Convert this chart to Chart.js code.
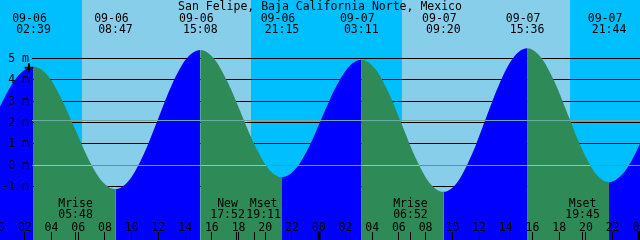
<!DOCTYPE html>
<html><head><meta charset="utf-8">
<script src="https://cdn.jsdelivr.net/npm/chart.js@4.4.1/dist/chart.umd.min.js"></script>
<style>html,body{margin:0;padding:0;background:#00BFFF;overflow:hidden}canvas{display:block}</style>
</head><body><canvas id="c" width="640" height="240"></canvas>
<script>
const title = 'San Felipe, Baja California Norte, Mexico';
// time in hours since 09-06 00:00, heights in metres
const tideHours = [0.142, 0.8, 1.4, 2.0, 2.65, 3.672, 4.694, 5.717, 6.739, 7.761, 8.783,
  9.841, 10.9, 11.958, 13.017, 14.075, 15.133, 16.153, 17.172, 18.192, 19.211, 20.231, 21.25,
  22.239, 23.228, 24.217, 25.206, 26.194, 27.183, 28.208, 29.233, 30.258, 31.283, 32.308, 33.333,
  34.378, 35.422, 36.467, 37.511, 38.556, 39.6, 40.622, 41.644, 42.667, 43.689, 44.711, 45.733,
  46.8, 47.5, 48.05];
const tideHeights = [2.74, 3.54, 4.10, 4.46, 4.60, 4.22, 3.17, 1.75, 0.32, -0.73, -1.11,
  -0.67, 0.52, 2.14, 3.77, 4.96, 5.39, 4.99, 3.90, 2.42, 0.93, -0.16, -0.56,
  -0.19, 0.81, 2.19, 3.56, 4.56, 4.93, 4.52, 3.39, 1.85, 0.30, -0.83, -1.24,
  -0.79, 0.44, 2.12, 3.79, 5.02, 5.47, 5.05, 3.91, 2.34, 0.78, -0.37, -0.79,
  -0.37, 0.30, 1.02];
const tideEventDates = ['09-06', '09-06', '09-06', '09-06', '09-07', '09-07', '09-07', '09-07'];
const tideEventTimes = ['02:39', '08:47', '15:08', '21:15', '03:11', '09:20', '15:36', '21:44'];
const moonEventNames = ['Mrise', 'New', 'Mset', 'Mrise', 'Mset'];
const moonEventDates = ['09-06', '09-06', '09-06', '09-07', '09-07'];
const moonEventTimes = ['05:48', '17:52', '19:11', '06:52', '19:45'];
const sunEventKinds = ['rise', 'set', 'rise', 'set'];
const sunEventDates = ['09-06', '09-06', '09-07', '09-07'];
const sunEventTimes = ['06:15', '18:56', '06:12', '18:49'];
const depthTicks = [5, 4, 3, 2, 1, 0, -1];
const datumLevels = [2.1, 0];
const datumColors = ['#6fa9a6', 'rgba(225,245,255,0.55)'];
const hourTicks = [0, 2, 4, 6, 8, 10, 12, 14, 16, 18, 20, 22, 24, 26, 28, 30, 32, 34, 36, 38, 40, 42, 44, 46, 48];
const hourTickLabels = ['00', '02', '04', '06', '08', '10', '12', '14', '16', '18', '20', '22',
  '00', '02', '04', '06', '08', '10', '12', '14', '16', '18', '20', '22', '00'];
const markerHours = [2.31];
const markerHeights = [4.56];
const xMin = 0.142, xMax = 48.05, yMin = -3.49, yMax = 7.72;

const NIGHT = '#00BFFF', DAY = '#87CEEB', RISE = '#0000FF', FALL = '#2E8B57';
const FONT = '11.5px "DejaVu Sans Mono", "Liberation Mono", monospace';
const dayIndex = {'09-06': 0, '09-07': 1, '09-08': 2};
function toHours(d, t) {
  const [hh, mm] = t.split(':').map(Number);
  return dayIndex[d] * 24 + hh + mm / 60;
}

const decor = {
  id: 'decor',
  beforeDraw(chart) {
    const {ctx} = chart, xs = chart.scales.x;
    ctx.save();
    ctx.fillStyle = NIGHT;
    ctx.fillRect(0, 0, chart.width, chart.height);
    let start = null;
    sunEventKinds.forEach((k, i) => {
      const px = xs.getPixelForValue(toHours(sunEventDates[i], sunEventTimes[i]));
      if (k === 'rise') start = px;
      else if (start !== null) {
        ctx.fillStyle = DAY;
        ctx.fillRect(Math.round(start), 0, Math.round(px) - Math.round(start), chart.height);
        start = null;
      }
    });
    ctx.restore();
  },
  beforeDatasetsDraw(chart) {
    const {ctx} = chart, ys = chart.scales.y;
    ctx.save();
    ctx.fillStyle = '#000';
    depthTicks.forEach(v => {
      const py = Math.floor(ys.getPixelForValue(v));
      ctx.fillRect(32, py, chart.width - 32, 1);
    });
    ctx.restore();
  },
  afterDatasetsDraw(chart) {
    const {ctx} = chart, xs = chart.scales.x, ys = chart.scales.y;
    ctx.save();
    datumLevels.forEach((v, i) => {
      ctx.fillStyle = datumColors[i];
      ctx.fillRect(32, Math.floor(ys.getPixelForValue(v)), chart.width - 32, 1);
    });
    ctx.font = FONT;
    ctx.fillStyle = '#000';
    ctx.textBaseline = 'alphabetic';
    // depth labels
    ctx.textAlign = 'right';
    depthTicks.forEach(v => {
      const py = ys.getPixelForValue(v);
      ctx.fillText(v + ' m', 29, py + 3.6);
    });
    // title
    ctx.textAlign = 'center';
    ctx.fillText(title, chart.width / 2, 9.5);
    // tide event labels
    tideEventTimes.forEach((t, i) => {
      const px = xs.getPixelForValue(toHours(tideEventDates[i], t));
      ctx.fillText(tideEventDates[i], px - 4, 21.7);
      ctx.fillText(t, px, 33.3);
    });
    // hour labels and ticks
    hourTicks.forEach((h, i) => {
      const px = xs.getPixelForValue(h);
      ctx.fillText(hourTickLabels[i], px, 230.5);
      if (h % 24 === 0) ctx.fillRect(Math.round(px) - 1.5, 231, 3, 9);
      else ctx.fillRect(Math.floor(px), 232, 1, 8);
    });
    // moon events
    const GAP = 1.5;
    const items = moonEventNames.map((n, i) => {
      const px = xs.getPixelForValue(toHours(moonEventDates[i], moonEventTimes[i]));
      const w = Math.max(ctx.measureText(n).width, ctx.measureText(moonEventTimes[i]).width);
      return {n, t: moonEventTimes[i], px, c: px, w};
    });
    for (let i = 0; i < items.length - 1; i++) {
      const a = items[i], b = items[i + 1];
      const ov = (a.c + a.w / 2 + GAP) - (b.c - b.w / 2);
      if (ov > 0) { a.c -= ov / 2; b.c += ov / 2; }
    }
    items.forEach(it => {
      ctx.fillText(it.n, it.c, 206.7);
      ctx.fillText(it.t, it.c, 217.8);
      ctx.fillRect(Math.floor(it.px), 232, 1, 8);
    });
    ctx.restore();
  }
};

new Chart(document.getElementById('c'), {
  type: 'line',
  data: {
    datasets: [
      {
        type: 'scatter',
        data: markerHours.map((h, i) => ({x: h, y: markerHeights[i]})),
        pointStyle: 'cross',
        pointRadius: 4.3,
        borderColor: '#000',
        backgroundColor: '#000',
        pointBorderWidth: 2,
        borderWidth: 2,
        clip: false
      },
      {
        data: tideHours.map((h, i) => ({x: h, y: tideHeights[i]})),
        fill: 'start',
        cubicInterpolationMode: 'monotone',
        pointRadius: 0,
        borderWidth: 0,
        borderColor: 'rgba(0,0,0,0)',
        backgroundColor: RISE,
        segment: {
          backgroundColor: c => (c.p1.parsed.y >= c.p0.parsed.y ? RISE : FALL),
          borderColor: () => 'rgba(0,0,0,0)'
        }
      }
    ]
  },
  options: {
    responsive: false,
    animation: false,
    devicePixelRatio: 1,
    events: [],
    layout: {padding: 0, autoPadding: false},
    plugins: {legend: {display: false}, tooltip: {enabled: false}},
    scales: {
      x: {type: 'linear', min: xMin, max: xMax, display: false},
      y: {type: 'linear', min: yMin, max: yMax, display: false}
    }
  },
  plugins: [decor]
});
</script>
</body></html>
